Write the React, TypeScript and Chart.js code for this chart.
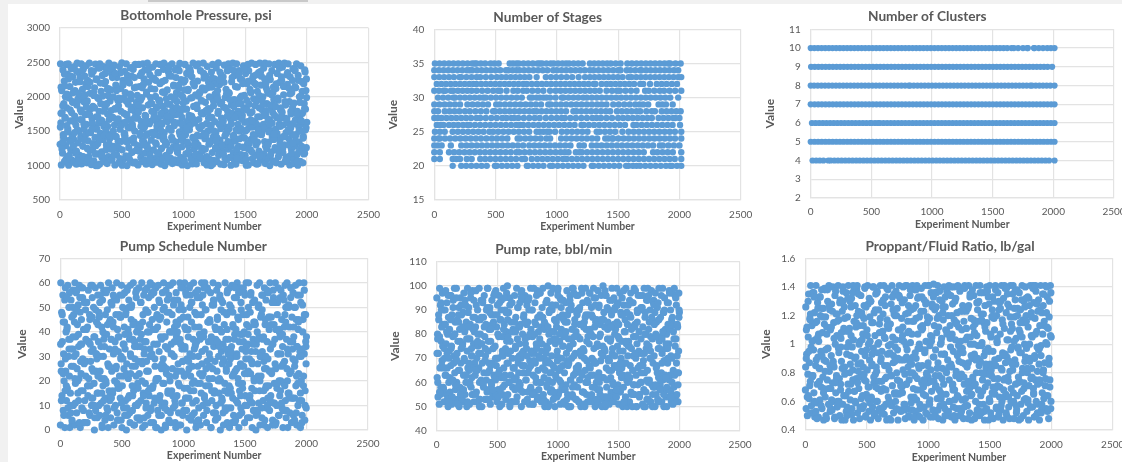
import React, { useEffect, useRef } from "react";
import { Chart, registerables } from "chart.js";
Chart.register(...registerables);

const experimentNumbers = [
1,4,7,11,14,17,21,24,27,31,34,37,41,44,47,50,
54,57,60,64,67,70,74,77,80,84,87,90,94,97,100,103,
106,109,113,116,119,123,126,129,133,136,139,143,146,149,152,155,
159,162,165,169,172,175,179,182,185,189,192,195,199,202,205,208,
211,214,218,221,224,228,231,234,238,241,244,248,251,254,257,260,
264,267,270,274,277,280,284,287,290,294,297,300,304,307,310,313,
317,320,323,327,330,333,337,340,343,347,350,353,357,360,363,366,
369,372,376,379,382,386,389,392,396,399,402,406,409,412,415,418,
422,425,428,432,435,438,442,445,448,452,455,458,462,465,468,471,
474,477,481,484,487,491,494,497,501,504,507,511,514,517,520,523,
527,530,533,537,540,543,547,550,553,557,560,563,567,570,573,576,
580,583,586,590,593,596,600,603,606,610,613,616,620,623,626,629,
632,635,639,642,645,649,652,655,659,662,665,669,672,675,678,681,
685,688,691,695,698,701,705,708,711,715,718,721,725,728,731,734,
737,740,744,747,750,754,757,760,764,767,770,774,777,780,783,786,
790,793,796,800,803,806,810,813,816,820,823,826,830,833,836,839,
842,845,849,852,855,859,862,865,869,872,875,879,882,885,888,891,
895,898,901,905,908,911,915,918,921,925,928,931,935,938,941,944,
948,951,954,958,961,964,968,971,974,978,981,984,988,991,994,997,
1000,1003,1007,1010,1013,1017,1020,1023,1027,1030,1033,1037,1040,1043,1046,1049,
1053,1056,1059,1063,1066,1069,1073,1076,1079,1083,1086,1089,1093,1096,1099,1102,
1105,1108,1112,1115,1118,1122,1125,1128,1132,1135,1138,1142,1145,1148,1151,1154,
1158,1161,1164,1168,1171,1174,1178,1181,1184,1188,1191,1194,1198,1201,1204,1207,
1211,1214,1217,1221,1224,1227,1231,1234,1237,1241,1244,1247,1251,1254,1257,1260,
1263,1266,1270,1273,1276,1280,1283,1286,1290,1293,1296,1300,1303,1306,1309,1312,
1316,1319,1322,1326,1329,1332,1336,1339,1342,1346,1349,1352,1356,1359,1362,1365,
1368,1371,1375,1378,1381,1385,1388,1391,1395,1398,1401,1405,1408,1411,1414,1417,
1421,1424,1427,1431,1434,1437,1441,1444,1447,1451,1454,1457,1461,1464,1467,1470,
1474,1477,1480,1484,1487,1490,1494,1497,1500,1504,1507,1510,1514,1517,1520,1523,
1526,1529,1533,1536,1539,1543,1546,1549,1553,1556,1559,1563,1566,1569,1572,1575,
1579,1582,1585,1589,1592,1595,1599,1602,1605,1609,1612,1615,1619,1622,1625,1628,
1631,1634,1638,1641,1644,1648,1651,1654,1658,1661,1664,1668,1671,1674,1677,1680,
1684,1687,1690,1694,1697,1700,1704,1707,1710,1714,1717,1720,1724,1727,1730,1733,
1737,1740,1743,1747,1750,1753,1757,1760,1763,1767,1770,1773,1777,1780,1783,1786,
1789,1792,1796,1799,1802,1806,1809,1812,1816,1819,1822,1826,1829,1832,1835,1838,
1842,1845,1848,1852,1855,1858,1862,1865,1868,1872,1875,1878,1882,1885,1888,1891,
1894,1897,1901,1904,1907,1911,1914,1917,1921,1924,1927,1931,1934,1937,1940,1943,
1947,1951,1954,1958,1961,1965,1968,1972,1975,1979,1982,1986,1989,1993,1996,2000
];

const bottomholePressure = [
1310,2480,1620,1010,2090,1770,1180,2390,1450,1900,2230,1060,1690,2000,1290,2470,
1840,1120,2330,1530,2480,1005,1980,1370,2150,1650,1230,2420,1770,1080,1440,2290,
2060,1390,1050,2440,1720,1210,2210,1590,1020,1880,2490,1330,1970,1110,2350,1500,
1150,2270,1810,1420,2480,1025,1660,2110,1280,2400,1930,1540,1085,2030,1740,2190,
2450,1600,1040,1940,2240,1360,1760,1130,2490,1220,2050,1480,1830,1015,2330,1680,
1240,1860,2370,1070,1560,2130,1410,2475,1000,1710,2260,1170,1990,1320,2420,1620,
1790,1020,2480,1470,1900,2080,1200,1650,2310,1110,1380,2440,1570,2190,1060,1840,
2220,1510,1300,2410,1030,1750,2020,1130,2490,1670,1390,1940,1240,2100,1455,2340,
1100,2390,1700,2000,1280,2460,1590,1010,1820,2170,1420,1160,2280,1640,1950,1355,
1870,1250,2440,1050,1530,2120,1790,1350,2495,1005,1620,2240,1090,1980,1460,2370,
1430,2060,1140,2480,1730,1000,2310,1560,1890,1260,1670,2200,1080,2420,1370,1970,
2300,1190,1600,1040,2400,1850,1330,2130,1500,2470,1760,1030,1920,1230,2020,1690,
1010,1780,2470,1270,2150,1440,1950,1120,1640,2350,1060,1840,2480,1540,1350,2260,
1560,2390,1180,1720,1020,2040,1300,2490,1460,1880,2210,1080,1610,2320,1200,1990,
2120,1370,1900,1015,2430,1660,1230,2270,1770,1100,1490,2005,2480,1310,1840,1570,
1680,1050,2350,1950,1430,1140,2190,2470,1720,1020,1250,1600,2070,1860,1380,2400,
2490,1480,1000,2240,1790,1150,1970,1320,2100,1640,1060,2360,1540,2450,1210,1890,
1110,1690,2300,1410,2480,1030,1840,1270,2170,1580,1960,1085,2390,1740,1340,2060,
1930,1210,2420,1620,1040,2120,1490,2485,1780,1120,2250,1380,1700,1010,2000,1560,
1350,2210,1065,1820,2470,1450,1170,1940,2340,1640,1000,2090,1290,2420,1730,1520,
2400,1590,1980,1130,1720,2290,1025,1410,2490,1860,1240,2160,1650,1090,2030,1340,
1025,1880,1440,2230,1300,2480,1670,1170,2050,1540,2380,1100,1760,1945,1250,2130,
1750,2490,1240,1040,2100,1390,1920,2300,1120,1610,1010,2440,1500,1830,2210,1310,
2170,1330,1820,1580,1000,2360,1700,1190,2470,1960,1420,1075,2260,1640,2040,1260,
1480,2420,1060,2020,1280,1760,2495,1150,1600,2180,1370,1900,1020,2320,1690,1220,
1195,1650,2290,1850,1015,2460,1430,1990,1300,2110,1560,1090,2380,1790,1240,2480,
2060,1540,1120,2400,1680,1005,1880,2220,1350,1760,2490,1190,1440,1960,2310,1050,
1360,1020,1950,2480,1180,2140,1600,1790,1280,2380,1080,1500,2260,1700,1900,2010,
2250,1730,1410,1070,2450,1260,2020,1630,1150,2340,1840,1005,1520,2190,1320,2470,
1010,2380,1890,1560,2110,1230,1660,1380,2490,1780,1100,2280,1450,1970,1040,2200,
1640,1150,2470,1300,1940,1020,2080,1710,1460,2350,1210,1840,2490,1090,1570,2170,
2300,1480,1810,1090,2000,1600,2420,1170,1350,2490,1030,1730,2130,1250,1900,1550,
1100,2050,1340,2480,1670,1000,2250,1510,1860,1200,2380,1420,1770,1070,2140,1960,
1860,2470,1260,1530,2120,1040,1700,2340,1400,1950,1130,2490,1600,2210,1320,1810,
1400,1020,2240,1780,2430,1190,1590,2030,1300,2490,1690,1060,1880,1480,2150,2320,
2180,1620,2480,1130,1390,1930,1010,2290,1540,1750,1240,2060,1450,1850,2410,1090,
1030,1910,1280,2380,1660,2130,1450,2480,1160,1790,1005,2240,1570,1340,2000,1710,
1060,2450,1610,1280,2220,1760,1040,1420,2190,1900,1180,2360,1520,2090,1260,1630
];

const pumpSchedule = [
2,60,27,48,14,36,55,8,31,20,44,1,58,24,40,12,
41,17,59,6,30,50,22,1,37,10,53,26,46,3,57,33,
10,47,30,2,60,19,38,56,7,25,43,15,51,34,21,59,
54,1,35,23,45,9,58,29,16,41,3,52,12,28,49,37,
28,52,3,42,14,57,21,36,47,6,18,59,32,10,25,54,
13,33,50,19,0,38,58,8,24,44,29,5,55,15,36,48,
46,6,24,59,34,11,42,1,53,18,30,57,21,39,4,13,
20,56,39,9,49,27,1,60,16,33,12,45,5,52,37,24,
58,15,44,31,2,54,20,36,10,47,26,60,7,41,17,32,
4,38,22,55,13,46,30,59,1,18,50,35,9,25,42,56,
33,12,48,0,27,57,6,41,21,53,14,37,3,59,30,45,
51,26,8,37,60,16,44,2,29,10,56,22,40,5,34,19,
17,43,58,23,4,34,52,12,39,60,28,1,47,15,55,31,
36,2,19,49,11,28,58,40,6,24,54,14,43,33,60,8,
9,55,31,45,59,18,3,35,50,13,26,41,58,21,1,47,
42,21,59,6,32,52,14,26,46,0,37,10,56,19,29,60,
26,50,11,38,1,57,23,44,8,33,16,59,4,48,40,20,
59,3,35,16,47,25,60,9,53,30,42,12,22,1,56,38,
14,40,53,27,7,36,18,60,45,2,51,24,33,11,58,28,
49,8,22,60,34,13,41,55,0,29,17,46,38,5,25,58,
31,59,16,4,44,52,26,11,37,60,20,7,48,34,56,1,
3,36,47,19,57,30,9,42,23,54,2,39,15,60,27,51,
55,23,6,40,14,60,33,18,49,3,28,58,11,44,36,21,
18,45,29,56,1,38,12,51,25,60,7,34,53,16,42,4,
37,10,57,24,46,5,59,30,15,41,55,0,20,49,32,13,
12,52,35,2,28,43,19,60,8,37,25,47,3,57,15,31,
48,27,1,58,17,9,50,34,59,22,13,42,6,30,54,39,
24,4,41,54,31,60,11,21,45,1,36,16,58,27,9,49,
7,33,19,47,58,26,40,3,55,14,29,60,43,10,23,35,
39,60,13,29,5,48,23,56,32,17,1,52,37,8,44,20,
53,16,43,0,35,21,59,7,27,50,11,38,60,2,30,46,
22,47,5,32,55,12,38,28,58,4,43,17,53,25,9,36,
1,29,56,18,41,8,60,33,14,46,23,52,2,35,57,11,
43,11,37,60,25,3,52,17,47,31,58,6,20,40,14,54,
16,57,26,45,9,34,1,55,19,42,28,59,12,50,5,37,
60,20,1,31,51,15,42,7,36,58,24,3,46,13,33,56,
6,38,50,13,28,59,18,45,2,34,55,10,41,23,60,30,
32,1,52,20,12,6,51,45,18,60,31,4,10,47,34,38
];

const pumpRate = [
95,62,80,54,72,86,51,99,66,92,58,77,83,69,97,75,
58,90,52,70,84,63,98,76,55,93,66,80,50,87,60,73,
82,56,96,67,74,51,88,61,79,94,53,71,99,64,85,57,
70,99,60,86,53,77,65,91,50,82,58,95,68,74,88,52,
53,76,89,63,97,69,81,55,92,60,85,50,73,99,66,78,
91,65,51,78,84,95,58,71,62,98,55,87,76,52,81,68,
63,83,98,56,70,52,90,75,86,66,99,60,53,80,72,94,
76,50,68,93,59,87,64,96,79,53,71,84,61,90,56,99,
99,73,57,82,65,91,51,77,60,88,94,68,55,74,85,63,
54,88,75,61,98,67,83,52,92,70,57,79,96,65,50,86,
86,62,94,51,79,55,71,99,66,84,59,90,74,53,81,97,
68,100,55,72,89,60,95,50,77,63,85,52,93,70,58,82,
52,81,66,96,57,74,87,62,99,54,78,91,68,83,60,71,
93,59,84,70,50,98,67,80,56,73,88,64,52,96,76,61,
61,74,92,53,85,64,79,95,51,69,57,99,82,72,90,55,
79,51,63,99,72,56,93,68,84,60,96,75,53,87,65,81,
57,97,78,88,60,83,52,73,91,66,99,55,70,62,85,50,
84,68,52,75,94,58,69,100,61,80,51,90,77,56,97,64,
71,90,60,99,53,81,66,86,50,76,92,62,83,54,73,98,
99,55,87,65,77,95,51,60,82,70,57,88,67,94,52,79,
64,80,51,93,59,72,98,85,55,67,78,90,50,75,96,61,
50,92,70,82,99,54,76,63,97,59,86,72,53,81,66,89,
88,58,96,67,52,90,61,78,84,50,71,99,63,56,93,74,
56,73,85,50,65,99,82,55,69,94,60,79,88,52,76,97,
97,66,54,80,91,70,52,87,63,99,74,58,83,50,95,68,
60,86,75,57,98,51,64,92,79,55,84,69,96,62,72,53,
75,100,62,89,54,83,73,50,96,66,58,91,78,85,53,70,
51,69,94,77,62,56,88,99,72,60,83,52,95,67,80,91,
82,54,67,99,85,75,59,93,51,78,64,97,56,89,70,62,
66,95,50,73,58,92,81,68,86,54,99,76,61,50,84,71,
92,77,61,52,88,67,97,56,74,83,50,65,93,79,55,99,
55,84,98,70,63,50,76,89,59,96,72,81,54,67,90,60,
78,60,72,91,51,96,69,57,99,64,87,50,80,74,94,53,
65,99,53,82,75,61,90,52,79,70,98,59,86,55,68,93,
94,71,58,50,97,80,55,85,67,91,53,74,62,99,77,52,
59,87,79,64,52,72,99,61,89,50,69,95,57,82,74,54,
80,50,93,68,84,57,76,98,54,63,90,71,52,86,60,97,
51,84,58,99,63,96,54,78,92,55,71,83,52,64,97,89
];

const proppantRatio = [
0.68,1.26,0.55,0.93,1.12,0.5,0.79,1.05,1.35,0.62,0.87,1.18,0.74,1.41,0.98,0.57,
1.13,0.78,1.36,0.52,0.96,0.66,1.22,0.49,1.03,0.85,1.41,0.59,1.16,0.72,1.29,0.91,
0.49,1.02,0.83,1.33,0.61,1.2,0.95,0.7,1.38,0.55,1.08,0.77,1.25,0.47,0.89,1.14,
1.38,0.63,1.19,0.88,0.48,1.07,0.75,1.3,0.97,0.58,1.41,0.81,1.24,0.53,1.1,0.69,
0.92,1.28,0.54,0.73,1.4,0.6,1.15,0.84,0.48,1.34,1.0,0.66,1.21,0.78,1.06,0.56,
0.6,1.41,0.97,1.17,0.76,0.5,1.31,0.68,1.04,0.88,0.47,1.23,0.58,1.37,0.83,1.11,
1.26,0.84,0.47,1.09,0.64,1.36,0.93,0.56,1.19,0.72,1.41,1.01,0.51,0.8,1.3,0.61,
0.72,1.06,1.32,0.55,0.98,0.82,1.41,0.47,1.16,0.67,0.9,1.27,0.59,1.12,0.76,1.38,
1.41,0.52,0.86,1.23,0.69,1.13,0.48,1.02,0.77,1.34,0.62,0.95,1.2,0.55,1.07,0.84,
0.57,1.18,0.75,1.39,0.92,0.49,1.26,0.65,1.1,0.82,1.41,0.7,1.0,0.53,1.32,0.89,
1.02,0.47,1.3,0.63,1.15,0.86,0.56,1.4,0.97,0.73,1.22,0.5,1.06,0.79,1.35,0.6,
0.81,1.36,0.6,1.0,0.48,1.24,0.74,1.14,0.54,1.41,0.88,0.67,1.29,0.95,0.52,1.09,
1.21,0.69,1.41,0.51,0.85,1.04,1.33,0.58,0.77,0.47,1.17,0.93,1.38,0.63,1.11,0.82,
0.48,0.94,1.14,0.78,1.28,0.57,1.41,0.71,1.05,0.87,0.52,1.35,0.66,1.2,0.98,0.6,
1.37,0.55,0.8,1.25,0.96,0.47,1.1,0.65,1.41,0.74,1.32,0.89,0.53,1.03,1.18,0.7,
0.66,1.12,1.4,0.89,0.58,1.31,0.79,0.48,1.21,0.99,0.72,1.41,0.55,1.08,0.84,1.27,
1.09,0.75,0.49,1.34,1.01,0.63,1.24,0.86,0.54,1.41,0.91,0.69,1.16,0.47,1.38,0.78,
0.53,1.27,0.9,0.61,1.41,0.76,1.07,0.5,1.33,0.83,1.19,0.58,0.97,1.12,0.68,1.39,
1.33,0.85,1.11,0.47,0.7,1.23,0.56,0.94,1.41,0.64,1.02,1.29,0.8,0.51,1.15,0.73,
0.77,1.41,0.59,1.18,0.99,0.49,0.82,1.36,0.67,1.05,1.26,0.54,0.91,1.42,0.74,1.13,
1.24,0.51,0.96,0.71,1.36,1.08,0.62,1.41,0.87,0.48,1.2,0.78,1.31,0.57,1.0,0.66,
0.62,1.04,1.3,0.83,0.47,1.17,0.72,1.4,0.93,0.55,1.26,1.1,0.65,0.8,1.37,0.5,
0.89,1.2,0.53,1.41,0.75,0.6,1.13,0.98,1.34,0.49,0.84,1.07,1.28,0.68,0.56,1.4,
1.17,0.68,0.47,1.03,1.32,0.81,0.55,1.22,0.92,1.41,0.63,1.12,0.5,0.76,1.37,0.95,
0.5,1.39,0.79,1.1,0.61,1.27,0.94,0.48,1.16,0.72,1.41,0.86,1.03,0.57,1.23,0.67,
1.05,0.57,1.25,0.87,1.41,0.7,0.52,1.33,1.0,0.64,1.18,0.47,0.9,1.38,0.77,1.12,
0.71,1.34,0.93,0.48,1.14,0.6,1.41,0.8,1.06,0.54,1.24,0.99,0.68,1.3,0.85,0.5,
1.41,0.88,0.64,1.21,0.52,1.01,0.75,1.36,0.58,1.15,0.92,0.47,1.27,0.7,1.09,0.83,
0.55,1.15,1.37,0.73,0.97,0.47,1.28,0.62,1.41,0.86,0.52,1.05,0.78,1.19,0.66,1.33,
0.95,0.48,0.76,1.3,1.1,0.65,1.41,0.85,0.55,1.2,1.02,0.71,1.36,0.49,0.9,1.24,
1.29,0.7,1.07,0.54,0.83,1.41,0.6,1.17,0.94,0.47,1.32,0.75,1.11,0.63,1.39,0.87,
0.65,1.22,0.5,0.91,1.35,0.77,1.03,0.56,1.26,0.48,0.81,1.41,0.96,0.69,1.14,0.59,
1.11,0.82,1.41,0.6,0.48,1.19,0.89,1.31,0.72,1.04,0.52,1.38,0.64,1.25,0.97,0.77,
0.47,1.36,0.74,1.08,1.24,0.58,0.94,0.67,1.41,0.83,1.17,0.5,1.3,0.61,1.0,0.88,
1.4,0.62,1.2,0.97,0.53,0.8,1.33,1.12,0.47,0.71,1.27,0.9,1.41,0.56,0.76,1.06,
0.83,1.05,0.56,1.41,0.69,1.29,0.49,0.92,1.18,0.75,1.37,0.6,1.09,0.98,0.52,1.23,
0.58,1.31,0.86,0.47,1.13,0.73,1.41,0.99,0.54,1.22,0.66,1.07,0.8,1.35,0.62,1.16,
0.87,1.41,0.76,0.55,1.22,1.0,1.33,0.64,1.11,0.48,0.86,1.3,0.75,1.41,0.55,1.05
];

const moreExperiments = [
3,9,16,23,29,36,42,49,56,62,69,75,82,89,95,102,
108,115,122,128,135,141,148,155,161,168,174,181,188,194,201,207,
214,221,227,234,240,247,254,260,267,273,280,287,293,300,306,313,
320,326,333,339,346,353,359,366,372,379,386,392,399,405,412,419,
425,432,438,445,452,458,465,471,478,485,491,498,504,511,518,524,
531,537,544,551,557,564,570,577,584,590,597,603,610,617,623,630,
636,643,650,656,663,669,676,683,689,696,702,709,716,722,729,735,
742,749,755,762,768,775,782,788,795,801,808,815,821,828,834,841,
848,854,861,867,874,881,887,894,900,907,914,920,927,933,940,947,
953,960,966,973,980,986,993,999,1006,1013,1019,1026,1032,1039,1046,1052,
1059,1065,1072,1079,1085,1092,1098,1105,1112,1118,1125,1131,1138,1145,1151,1158,
1164,1171,1178,1184,1191,1197,1204,1211,1217,1224,1230,1237,1244,1250,1257,1263,
1270,1277,1283,1290,1296,1303,1310,1316,1323,1329,1336,1343,1349,1356,1362,1369,
1376,1382,1389,1395,1402,1409,1415,1422,1428,1435,1442,1448,1455,1461,1468,1475,
1481,1488,1494,1501,1508,1514,1521,1527,1534,1541,1547,1554,1560,1567,1574,1580,
1587,1593,1600,1607,1613,1620,1626,1633,1640,1646,1653,1659,1666,1673,1679,1686,
1692,1699,1706,1712,1719,1725,1732,1739,1745,1752,1758,1765,1772,1778,1785,1791,
1798,1805,1811,1818,1824,1831,1838,1844,1851,1857,1864,1871,1877,1884,1890,1897,
1904,1910,1917,1923,1930,1937,1943,1950,1956,1963,1970,1976,1983,1989,1994,1998
];

const morePressure = [
1560,2140,1240,1870,1410,2330,1700,1090,2040,1490,2260,1150,1810,1350,2410,1930,
1280,1640,2090,1180,2370,1520,1950,1070,2220,1390,1780,2010,1130,1600,2300,1450,
1920,1250,2150,1480,1740,1060,2380,1610,1320,2060,1840,1170,2250,1530,1000,1970,
1380,2200,1660,1120,2010,1790,1440,2340,1230,1900,1570,2120,1310,1710,2400,1080,
2280,1500,1160,1830,1420,2090,1270,1680,1980,1100,2350,1590,1230,2170,1760,1470,
1630,1940,1340,2230,1110,1550,2040,1810,1200,2430,1400,1690,1050,2140,1870,1290,
1830,1210,2310,1570,1990,1360,2180,1080,1730,1440,2070,1260,2390,1640,1150,1910,
1480,2260,1040,1710,2110,1330,1850,1590,2350,1190,1950,1520,1760,2220,1100,1410,
2060,1300,1660,1890,1120,2420,1540,1230,2000,1780,1370,2160,1630,1050,2280,1840,
1190,1750,2380,1450,2030,1270,1600,1910,1080,2240,1510,1820,1340,2110,1680,2320,
1700,1090,1990,2200,1390,1620,1160,2450,1830,1280,1560,2070,1430,1940,1210,1770,
2340,1470,1240,1800,1130,2130,1690,2000,1360,1580,2270,1020,1870,1500,2190,1250,
1410,2090,1790,1180,2360,1540,1920,1300,1650,2210,1110,1460,2040,1720,1350,2400,
1960,1120,1610,2280,1430,1860,1070,2150,1520,1240,1740,2330,1390,1990,1160,1680,
1270,1820,2400,1500,1090,1950,1640,2230,1320,1760,2060,1200,1560,2300,1430,1870,
2180,1600,1340,1030,2020,1710,2370,1450,1130,1900,1540,2260,1280,1800,2090,1660,
1490,2310,1150,1880,1620,2060,1380,1730,1060,2190,1470,1980,1230,2420,1570,1840,
1770,1250,2150,1420,1930,1110,1680,2350,1520,1300,2040,1790,1180,2240,1610,1440,
2150,1360,1780,1060,2310,1500,1920,1240,1650,2080,1400,1170,2390,1820,1550,1990
];

const moreSchedule = [
35,12,47,23,6,53,29,18,42,9,37,56,15,33,4,50,
26,44,11,31,57,20,39,3,48,16,35,54,8,27,41,22,
52,18,36,7,45,28,13,59,24,38,5,49,31,15,43,10,
30,55,21,2,40,12,34,47,19,57,8,26,44,14,37,51,
16,42,9,33,25,53,4,38,17,46,29,11,55,22,35,6,
47,23,58,13,39,7,31,50,18,43,2,36,26,54,10,41,
28,5,37,52,20,44,14,33,57,9,24,48,16,40,30,3,
56,17,41,11,29,1,46,35,21,53,12,38,6,27,49,19,
9,34,25,48,15,55,22,7,40,31,14,51,36,3,44,24,
43,19,2,37,58,11,28,46,17,33,56,8,23,41,13,50,
22,52,6,30,16,42,35,12,54,26,4,39,19,47,32,10,
38,13,49,25,8,57,18,31,44,1,36,21,53,15,28,41,
5,45,20,34,54,11,40,27,7,48,16,33,24,56,9,37,
51,29,15,3,43,23,37,58,12,30,46,19,6,39,52,26,
17,36,56,10,32,47,5,24,42,14,55,28,11,35,21,44,
32,8,40,22,51,16,30,9,49,37,2,25,45,18,57,13,
46,24,12,43,35,4,54,19,27,41,10,52,31,6,38,20,
11,39,27,53,18,44,8,33,15,50,23,36,58,13,29,42,
26,50,7,34,19,45,12,55,30,3,40,22,47,16,36,9
];

const moreRate = [
72,60,88,79,55,93,67,84,57,74,90,63,81,53,96,70,
62,86,75,54,91,68,80,59,95,72,51,85,65,77,92,56,
83,57,70,94,63,78,52,89,68,60,97,74,55,82,66,87,
55,92,65,80,72,50,86,61,76,94,58,83,69,53,90,64,
77,53,89,67,59,84,74,96,62,70,55,88,80,64,93,57,
90,71,58,82,95,63,54,77,86,68,60,92,73,52,81,66,
61,85,75,52,70,91,64,83,57,97,72,56,87,67,78,94,
84,56,94,66,80,58,73,90,51,69,85,62,76,98,54,71,
70,97,60,76,87,53,82,65,93,59,74,50,89,68,81,57,
92,67,78,54,63,85,71,96,56,80,66,91,58,75,86,52,
57,81,69,88,50,74,94,61,78,55,99,71,84,64,53,90,
79,52,91,73,64,97,56,83,70,87,60,77,52,93,67,82,
63,88,58,79,95,68,85,53,75,62,91,57,80,72,50,86,
86,74,51,96,61,82,69,90,54,78,65,94,59,84,71,56,
54,92,66,84,73,57,88,77,63,98,52,81,68,89,60,75,
75,62,87,55,93,71,59,83,79,50,90,66,73,55,96,64,
67,83,50,72,89,56,76,94,60,85,70,52,87,78,58,92,
89,59,79,64,52,86,74,61,96,68,81,55,90,63,76,58,
74,93,61,82,56,70,87,65,78,52,95,68,84,59,73,90
];

const moreProppant = [
0.84,1.1,0.63,1.3,0.95,0.71,1.21,0.52,1.02,0.78,1.36,0.6,1.15,0.89,0.48,1.25,
1.07,0.74,1.33,0.57,0.92,1.19,0.66,1.39,0.81,0.5,1.12,0.97,0.69,1.27,0.85,0.55,
0.61,1.23,0.88,1.04,0.49,1.37,0.76,1.16,0.58,0.94,1.29,0.72,1.08,0.83,1.4,0.64,
1.18,0.8,0.53,0.98,1.32,0.67,1.11,0.86,1.26,0.51,0.75,1.03,1.38,0.6,0.91,1.2,
0.73,1.35,1.0,0.56,0.87,1.22,0.64,1.13,0.79,1.4,0.5,0.96,1.06,1.28,0.7,0.59,
1.3,0.62,0.93,1.15,0.77,0.52,1.24,0.84,1.37,0.69,1.01,0.55,1.18,0.9,0.74,1.09,
0.56,1.05,1.27,0.68,1.39,0.85,0.99,0.6,1.14,0.47,0.78,1.33,0.92,1.21,0.65,1.03,
1.2,0.75,0.9,1.34,0.54,1.1,0.66,1.29,0.82,1.02,0.58,1.41,0.72,0.96,1.16,0.5,
0.88,1.38,0.59,1.07,0.8,1.25,0.49,0.94,1.18,0.68,1.32,0.85,1.0,0.55,1.23,0.73,
1.13,0.65,1.31,0.96,0.52,0.79,1.19,0.87,1.41,0.61,1.06,0.74,1.28,0.49,0.91,1.36,
0.7,1.26,0.83,0.54,1.12,1.37,0.63,1.01,0.76,1.22,0.58,0.93,1.33,0.81,1.09,0.52,
1.35,0.6,1.04,0.86,1.2,0.71,0.95,0.5,1.3,0.78,1.15,0.64,1.4,0.88,0.55,1.02,
0.53,0.97,1.23,0.77,1.39,0.62,1.11,0.84,0.48,1.27,0.69,1.05,0.92,1.34,0.75,1.17,
1.08,0.72,0.51,1.29,0.9,1.16,0.58,1.36,0.8,0.99,0.67,1.21,0.53,1.12,0.86,1.4,
0.79,1.33,0.95,0.6,1.07,0.49,1.24,0.7,1.18,0.89,1.38,0.56,1.01,0.76,1.3,0.63,
1.25,0.57,0.82,1.14,0.68,1.41,0.93,0.52,1.03,1.28,0.74,0.88,1.19,0.6,0.98,1.35,
0.66,1.02,1.37,0.86,0.54,1.2,0.73,1.1,0.94,0.48,1.31,0.8,1.15,0.69,1.26,0.91,
1.16,0.83,0.61,1.32,1.0,0.56,1.22,0.77,1.39,0.65,0.9,1.07,0.5,1.28,0.72,0.96,
0.75,1.24,0.92,0.58,1.35,0.82,1.13,0.64,1.01,1.4,0.53,0.87,1.19,0.7,1.06,0.6
];

const lastExperiments = [
8,24,39,55,71,86,102,118,133,149,165,180,196,212,227,243,
259,274,290,306,321,337,353,368,384,400,415,431,447,462,478,494,
509,525,541,556,572,588,603,619,635,650,666,682,697,713,729,744,
760,776,791,807,823,838,854,870,885,901,917,932,948,964,979,995,
1011,1026,1042,1058,1073,1089,1105,1120,1136,1152,1167,1183,1199,1214,1230,1246,
1261,1277,1293,1308,1324,1340,1355,1371,1387,1402,1418,1434,1449,1465,1481,1496,
1512,1528,1543,1559,1575,1590,1606,1622,1637,1653,1669,1684,1700,1716,1731,1747,
1763,1778,1794,1810,1825,1841,1857,1872,1888,1904,1919,1935,1951,1966,1982,1997
];

const lastPressure = [
1760,1340,2160,1580,1130,2300,1920,1480,1210,2050,1670,2380,1370,1850,1100,2210,
1530,2020,1290,1710,2420,1160,1890,1600,2110,1430,1800,1250,2340,1660,1040,1960,
2190,1390,1740,1130,2030,1560,2280,1220,1880,1470,2130,1300,1640,2400,1090,1790,
1450,2240,1180,1930,1620,2070,1350,1720,2310,1510,1060,1980,1270,2170,1820,1410,
2100,1550,1200,2360,1690,1310,1860,2010,1130,1580,2270,1440,1780,1090,2140,1930,
1360,1970,2250,1620,1170,1840,1490,2050,1280,2390,1700,1110,1900,1540,2190,1400,
1810,1240,2080,1650,1370,2320,1520,1140,1950,1730,2200,1300,1600,2030,1460,1860,
1220,1680,2290,1420,1910,1090,2120,1570,1330,2390,1750,1200,2010,1500,1830,2260
];

const lastSchedule = [
24,44,16,54,33,7,38,21,49,12,28,58,3,41,18,35,
46,10,31,22,52,15,37,6,43,26,13,55,32,19,47,4,
29,39,9,50,23,14,34,57,11,42,27,5,36,48,17,30,
56,20,8,45,25,38,2,53,15,31,40,10,24,49,35,6,
42,13,28,55,19,33,47,4,37,22,58,11,44,26,16,51,
7,36,21,53,29,9,41,18,32,48,3,25,56,14,39,23,
34,50,12,27,43,6,37,20,55,16,30,10,46,24,52,2,
19,41,31,8,47,25,13,54,36,4,22,44,15,33,57,27
];

const lastRate = [
78,56,90,66,84,72,52,96,61,80,69,88,55,75,92,63,
83,59,71,94,65,77,53,87,60,74,91,68,82,57,97,70,
54,86,73,62,89,79,51,93,66,81,58,76,95,64,85,71,
90,67,55,80,74,97,60,87,52,72,83,64,92,56,78,69,
61,94,75,85,53,68,90,58,79,96,66,84,73,51,88,62,
81,55,69,92,76,60,86,71,98,54,65,83,74,90,57,79,
68,88,52,77,63,94,82,59,72,85,55,91,67,80,61,96,
73,50,84,66,93,57,78,89,62,70,97,54,81,75,64,87
];

const lastProppant = [
0.9,0.64,1.17,0.77,1.33,0.53,1.05,0.83,1.25,0.69,0.96,1.38,0.58,1.12,0.86,0.73,
1.21,0.6,0.98,1.3,0.79,0.5,1.09,0.92,1.36,0.67,1.15,0.81,0.55,1.03,1.27,0.74,
0.62,1.19,0.85,1.4,0.7,0.94,1.08,0.52,1.31,0.76,1.13,0.6,1.0,1.24,0.88,0.66,
1.34,0.71,1.06,0.54,0.91,1.22,0.8,1.16,0.63,1.38,0.97,0.49,1.1,0.75,1.28,0.85,
0.58,1.02,1.33,0.78,1.18,0.68,0.93,1.26,0.5,1.07,0.84,1.4,0.72,0.61,1.14,0.99,
1.23,0.87,0.56,1.11,0.74,1.35,0.65,1.0,0.89,1.29,0.53,1.17,0.79,0.95,1.37,0.6,
0.82,1.2,0.69,1.04,0.51,1.3,0.92,0.76,1.39,0.63,1.09,0.86,1.25,0.57,0.98,1.15,
1.05,0.73,1.32,0.59,0.88,1.19,0.66,1.41,0.81,0.97,0.52,1.27,0.71,1.12,0.9,1.36
];

const stages35 = [5,43,81,119,157,195,233,271,309,330,345,380,415,460,492,525,615,642,670,690,728,766,804,842,860,880,915,950,975,1010,1045,1075,1100,1137,1174,1210,1270,1305,1340,1375,1410,1440,1480,1520,1575,1612,1650,1688,1726,1764,1802,1840,1878,1910,1925,1968,2010];
const stages34 = [0,38,76,114,152,190,228,266,290,310,348,386,424,462,500,538,585,605,638,670,695,733,771,809,847,885,923,970,1000,1038,1076,1114,1152,1190,1228,1270,1300,1340,1380,1420,1460,1500,1520,1570,1600,1640,1680,1690,1728,1766,1804,1842,1880,1918,1956,1990];
const stages33 = [0,40,80,120,160,205,220,262,304,345,375,420,465,510,548,586,624,662,700,738,776,835,910,952,994,1036,1080,1125,1178,1230,1270,1308,1346,1384,1422,1460,1498,1536,1585,1610,1648,1686,1724,1762,1800,1838,1876,1914,1952,1990,2015];
const stages32 = [20,58,96,134,172,210,248,286,320,345,383,421,459,497,535,573,611,649,687,725,755,795,835,840,878,916,954,992,1030,1068,1106,1144,1182,1220,1258,1300,1315,1365,1405,1440,1478,1516,1554,1592,1630,1680,1705,1760,1815,1855,1895,1938,1980];
const stages31 = [0,38,75,90,135,155,193,231,269,305,345,390,435,480,520,540,590,645,680,725,755,800,845,890,945,990,1030,1070,1110,1150,1190,1230,1270,1310,1350,1405,1450,1490,1515,1560,1605,1650,1720,1750,1795,1840,1875,1920,1965,2015];
const stages30 = [30,72,114,155,170,210,250,290,330,370,400,420,462,504,546,588,630,672,714,780,800,835,860,890,915,945,990,1040,1055,1095,1135,1175,1215,1245,1285,1325,1365,1405,1445,1485,1525,1565,1605,1645,1685,1725,1765,1805,1845,1885,1925,1990];
const stages29 = [0,42,84,126,168,210,270,312,354,396,438,505,535,577,619,661,703,745,787,829,871,930,950,992,1034,1076,1118,1160,1202,1244,1286,1328,1365,1405,1460,1505,1550,1595,1640,1675,1705,1745,1830,1860,1890,1945];
const stages28 = [0,30,85,125,165,205,250,290,335,380,425,480,495,535,575,615,655,695,735,775,810,835,875,915,955,995,1035,1075,1135,1160,1200,1240,1280,1320,1360,1400,1435,1490,1530,1570,1610,1650,1680,1730,1775,1800,1855,1895,1935,1975,2010];
const stages27 = [0,30,60,100,140,180,220,260,300,345,375,420,465,510,555,590,630,650,685,730,775,820,860,910,955,1000,1040,1065,1110,1155,1200,1245,1290,1325,1360,1405,1450,1500,1540,1580,1620,1660,1700,1740,1775,1830,1870,1910,1950,1965,2000];
const stages26 = [20,48,75,120,158,195,235,270,290,332,374,416,458,500,542,584,626,668,700,725,767,809,851,893,935,977,1019,1061,1103,1145,1200,1220,1262,1304,1346,1388,1430,1472,1514,1556,1625,1650,1692,1734,1776,1818,1860,1902,1944,2005];
const stages25 = [5,45,85,150,192,234,276,318,360,402,450,480,522,564,606,648,690,732,774,835,860,890,920,940,985,1040,1082,1124,1166,1208,1250,1325,1350,1392,1434,1476,1535,1585,1627,1669,1711,1753,1795,1837,1879,1921,1963,2015];
const stages24 = [0,35,45,87,129,171,213,255,297,339,381,425,470,512,554,596,680,700,742,784,826,868,915,945,1035,1077,1119,1161,1203,1245,1287,1329,1395,1420,1450,1460,1502,1544,1586,1628,1670,1712,1754,1796,1838,1880,1922,1964,2015];
const stages23 = [0,30,60,135,220,262,304,346,388,430,472,514,556,598,640,682,725,775,817,859,901,943,985,1027,1069,1111,1185,1220,1285,1325,1365,1407,1449,1491,1533,1575,1617,1659,1701,1743,1785,1840,1865,1910,1955,2000];
const stages22 = [0,45,120,162,204,246,288,330,372,414,456,498,540,582,624,670,695,737,779,821,863,905,947,989,1031,1065,1095,1155,1185,1205,1247,1289,1331,1373,1415,1457,1499,1541,1583,1625,1667,1709,1785,1820,1862,1904,1946,2015];
const stages21 = [0,45,150,180,210,265,305,375,415,457,499,541,583,625,667,715,740,795,840,882,924,966,1008,1050,1080,1122,1164,1206,1248,1290,1332,1374,1416,1458,1500,1542,1584,1626,1668,1710,1752,1794,1836,1878,1920,1962,2015];
const stages20 = [150,220,260,302,344,386,428,495,510,552,594,636,678,755,765,807,849,891,945,965,1007,1049,1091,1133,1175,1217,1285,1300,1342,1384,1426,1468,1510,1565,1585,1620,1650,1680,1722,1764,1806,1848,1890,1925,1940,1980,2015];

const clusters10 = [0,30,60,90,120,150,180,210,240,270,300,330,360,390,420,450,480,510,540,570,600,630,660,690,720,750,780,810,840,870,900,930,960,990,1020,1050,1080,1110,1140,1170,1200,1230,1260,1290,1320,1350,1380,1410,1440,1470,1500,1530,1560,1590,1620,1655,1675,1710,1750,1785,1790,1840,1845,1880,1915,1950,1980,2010];
const clusters9 = [3,33,63,93,123,153,183,213,243,273,303,333,363,393,423,453,483,513,543,573,603,633,663,693,723,753,783,813,843,873,903,933,963,993,1023,1053,1083,1113,1143,1173,1203,1233,1263,1293,1323,1353,1383,1413,1443,1473,1503,1533,1563,1593,1623,1653,1683,1713,1743,1773,1803,1833,1863,1893,1923,1953,1990];
const clusters8 = [0,28,58,88,118,148,178,208,238,268,298,328,358,388,418,448,478,508,538,568,598,628,658,688,718,748,778,808,820,850,880,910,940,970,1000,1030,1060,1090,1120,1150,1180,1210,1240,1270,1300,1330,1360,1390,1420,1450,1480,1510,1540,1570,1600,1630,1660,1690,1720,1750,1780,1810,1825,1855,1885,1915,1945,1975,2010];
const clusters7 = [0,32,62,92,122,152,182,212,242,272,302,332,362,392,422,452,482,512,542,572,602,632,662,692,722,752,782,812,842,872,902,932,962,992,1022,1052,1082,1112,1142,1172,1202,1232,1262,1292,1322,1352,1382,1412,1442,1472,1502,1532,1562,1592,1622,1652,1682,1712,1742,1772,1802,1832,1862,1892,1922,1952,1982,2010];
const clusters6 = [10,40,70,100,130,160,190,220,250,280,310,340,370,400,430,460,490,500,530,555,570,600,630,660,690,720,750,780,810,840,870,900,930,960,990,1020,1050,1080,1110,1140,1170,1200,1230,1260,1290,1320,1350,1380,1410,1440,1470,1500,1530,1560,1590,1620,1650,1680,1710,1740,1770,1800,1830,1860,1890,1920,1950,1980,2010];
const clusters5 = [0,31,61,91,121,151,181,211,241,271,301,331,361,391,421,451,481,511,541,571,601,631,661,691,721,751,781,811,841,871,901,931,961,991,1021,1051,1081,1111,1141,1171,1201,1231,1261,1291,1321,1351,1381,1411,1441,1471,1501,1531,1561,1591,1621,1651,1681,1711,1741,1771,1801,1831,1861,1891,1921,1951,1981,2010];
const clusters4 = [15,45,75,105,145,165,195,225,255,285,315,345,375,405,435,465,495,525,555,585,615,645,675,705,735,765,795,825,855,885,915,945,975,1005,1035,1065,1095,1125,1155,1185,1215,1245,1275,1305,1335,1365,1395,1425,1455,1485,1515,1545,1575,1605,1635,1665,1695,1725,1755,1785,1815,1845,1875,1905,1935,1965,2010];

const stageRows: [number, number[]][] = [[35,stages35],[34,stages34],[33,stages33],[32,stages32],[31,stages31],[30,stages30],[29,stages29],[28,stages28],[27,stages27],[26,stages26],[25,stages25],[24,stages24],[23,stages23],[22,stages22],[21,stages21],[20,stages20]];
const clusterRows: [number, number[]][] = [[10,clusters10],[9,clusters9],[8,clusters8],[7,clusters7],[6,clusters6],[5,clusters5],[4,clusters4]];

const pairUp = (ys: number[], more: number[], last: number[]) => [
  ...ys.map((y, i) => ({ x: experimentNumbers[i], y })),
  ...more.map((y, i) => ({ x: moreExperiments[i], y })),
  ...last.map((y, i) => ({ x: lastExperiments[i], y })),
];
const rowsUp = (rows: [number, number[]][]) => rows.flatMap(([y, xs]) => xs.map((x) => ({ x, y })));

const BLUE = "#5B9BD5";
const GRID = "#e3e3e3";
const TEXT = "#595959";
const FONT = "Lato, 'Open Sans', sans-serif";

type Panel = {
  title: string; points: { x: number; y: number }[]; radius: number;
  min: number; max: number; step: number;
  L: number; R: number; T: number; B: number; boxLeft: number;
  px0: number; px1: number; py0: number; py1: number;
  titleY: number; xTitleY: number; yTitleX: number; tickY: number;
};

const panels: Panel[] = [
  { title: "Bottomhole Pressure, psi", points: pairUp(bottomholePressure, morePressure, lastPressure), radius: 3.6, min: 500, max: 3000, step: 500, L: 8, R: 410, T: 4, B: 238, boxLeft: 23.5, px0: 60, px1: 368.5, py0: 28, py1: 200, titleY: 16, xTitleY: 227, yTitleX: 19, tickY: 215 },
  { title: "Number of Stages", points: rowsUp(stageRows), radius: 3.2, min: 15, max: 40, step: 5, L: 354, R: 782, T: 4, B: 238, boxLeft: 354.7, px0: 434.3, px1: 740.7, py0: 29.3, py1: 200, titleY: 17.3, xTitleY: 226.7, yTitleX: 392.7, tickY: 215 },
  { title: "Number of Clusters", points: rowsUp(clusterRows), radius: 3.1, min: 2, max: 11, step: 1, L: 740, R: 1156, T: 4, B: 238, boxLeft: 740.6, px0: 810.7, px1: 1114, py0: 29.3, py1: 198, titleY: 17, xTitleY: 225, yTitleX: 770, tickY: 212 },
  { title: "Pump Schedule Number", points: pairUp(pumpSchedule, moreSchedule, lastSchedule), radius: 3.6, min: 0, max: 70, step: 10, L: 8, R: 410, T: 234, B: 470, boxLeft: 18.6, px0: 60.3, px1: 368, py0: 258.3, py1: 430, titleY: 246.7, xTitleY: 456, yTitleX: 21.7, tickY: 444 },
  { title: "Pump rate, bbl/min", points: pairUp(pumpRate, moreRate, lastRate), radius: 3.6, min: 40, max: 110, step: 10, L: 367, R: 782, T: 234, B: 470, boxLeft: 367.4, px0: 436.7, px1: 740, py0: 261.7, py1: 430.7, titleY: 250, xTitleY: 457, yTitleX: 395, tickY: 445 },
  { title: "Proppant/Fluid Ratio, lb/gal", points: pairUp(proppantRatio, moreProppant, lastProppant), radius: 3.6, min: 0.4, max: 1.6, step: 0.2, L: 750, R: 1154, T: 234, B: 470, boxLeft: 787.3, px0: 805.3, px1: 1112.7, py0: 258.3, py1: 430, titleY: 246.7, xTitleY: 457.3, yTitleX: 766, tickY: 445 },
];

function ChartPanel({ p }: { p: Panel }) {
  const ref = useRef<HTMLCanvasElement>(null);
  useEffect(() => {
    const titleSize = 13.7, xSize = 10.5, ySize = 12, tickSize = 10;
    const plotTop = p.py0 - p.T;
    const tTop = p.titleY - p.T - titleSize / 2;
    const chart = new Chart(ref.current!, {
      type: "scatter",
      data: { datasets: [{ data: p.points, backgroundColor: BLUE, borderColor: BLUE, borderWidth: 0, pointRadius: p.radius, clip: false as any }] },
      options: {
        animation: false, responsive: false, maintainAspectRatio: false,
        layout: { padding: { left: p.boxLeft - p.L, top: 0, bottom: 0, right: p.R - p.px1 } },
        plugins: {
          legend: { display: false }, tooltip: { enabled: false },
          title: { display: true, text: p.title, color: TEXT, align: "center",
            font: { family: FONT, size: titleSize, weight: "bold", lineHeight: 1 },
            padding: { top: tTop, bottom: plotTop - tTop - titleSize } },
        },
        scales: {
          x: {
            type: "linear", min: 0, max: 2500,
            afterFit: (s: any) => { s.height = p.B - p.py1; },
            grid: { color: GRID, lineWidth: 1.2, drawTicks: false },
            border: { color: GRID, width: 1.2 },
            ticks: { stepSize: 500, color: TEXT, font: { family: FONT, size: tickSize }, padding: p.tickY - p.py1 - 6, maxRotation: 0,
              callback: (v: any) => String(v) },
            title: { display: true, text: "Experiment Number", color: TEXT,
              font: { family: FONT, size: xSize, weight: "bold", lineHeight: 1 },
              padding: { top: 0, bottom: p.B - p.xTitleY - xSize / 2 } },
          },
          y: {
            type: "linear", min: p.min, max: p.max,
            afterFit: (s: any) => { s.width = p.px0 - p.boxLeft; s._computeLabelArea = () => undefined; },
            grid: { color: GRID, lineWidth: 1.2, drawTicks: false },
            border: { color: GRID, width: 1.2 },
            ticks: { stepSize: p.step, color: TEXT, font: { family: FONT, size: tickSize }, padding: 10,
              callback: (v: any) => String(Number(Number(v).toFixed(1))) },
            title: { display: true, text: "Value", color: TEXT,
              font: { family: FONT, size: ySize, weight: "bold", lineHeight: 1 },
              padding: { top: p.yTitleX - p.boxLeft - ySize / 2, bottom: 0 } },
          },
        },
      },
    } as any);
    return () => chart.destroy();
  }, [p]);
  return (
    <canvas ref={ref} width={p.R - p.L} height={p.B - p.T}
      style={{ position: "absolute", left: p.L, top: p.T, width: p.R - p.L, height: p.B - p.T, filter: "blur(0.6px)" }} />
  );
}

export default function App() {
  return (
    <div style={{ position: "absolute", left: 0, top: 0, width: 1122, height: 462, overflow: "hidden", background: "#f1f1f1" }}>
      <div style={{ position: "absolute", left: 8, top: 4, right: 0, bottom: 0, background: "#fff" }} />
      <div style={{ position: "absolute", left: 148, top: 0, width: 160, height: 1.5, background: "#c9c9c9" }} />
      {panels.map((p) => <ChartPanel key={p.title} p={p} />)}
    </div>
  );
}
